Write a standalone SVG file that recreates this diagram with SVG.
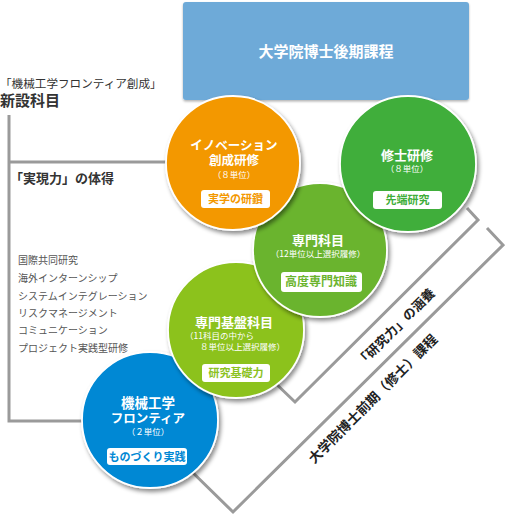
<svg xmlns="http://www.w3.org/2000/svg" width="505" height="516" viewBox="0 0 505 516">
<defs>
<filter id="sh" x="-20%" y="-20%" width="150%" height="150%">
<feDropShadow dx="2" dy="3" stdDeviation="2.2" flood-color="#000" flood-opacity="0.45"/>
</filter>
<filter id="sh2" x="-5%" y="-10%" width="110%" height="130%">
<feDropShadow dx="0" dy="1.5" stdDeviation="1.2" flood-color="#000" flood-opacity="0.3"/>
</filter>
</defs>
<style>
text{font-family:"Noto Sans CJK JP","Noto Sans CJK SC",sans-serif}
.ln{fill:none;stroke:#9a9a9a;stroke-width:3}
.c{stroke:#fff;stroke-width:1.8;filter:url(#sh)}
.t{fill:#fff;font-weight:bold;font-size:12.5px;text-anchor:middle}
.s{fill:#fff;font-size:8.5px;text-anchor:middle}
.b{fill:#fff}
.bl{font-weight:bold;font-size:11px;text-anchor:middle}
.list{fill:#555;font-size:10px}
.dk{fill:#222;font-weight:bold}
</style>

<g id="connectors">
<polyline class="ln" points="9,115 9,421 90,421"/>
<line class="ln" x1="9" y1="162" x2="175" y2="162"/>
<polyline class="ln" points="467,208 478,220 295,402 270,378"/>
<polyline class="ln" points="487,228 503,245 233,512 185,465"/>
</g>

<g id="top">
<rect x="183" y="2" width="286" height="98" rx="3" fill="#6eaad8" filter="url(#sh2)"/>
<text x="326" y="57" class="t" style="font-size:15px">大学院博士後期課程</text>
</g>

<g id="left-labels">
<text x="0" y="88" fill="#333" font-size="11.6">「機械工学フロンティア創成」</text>
<text x="0" y="106" fill="#333" font-size="15" font-weight="bold">新設科目</text>
<text x="10" y="183" fill="#333" font-size="13" font-weight="bold">「実現力」の体得</text>
<text class="list" x="18" y="264">国際共同研究</text>
<text class="list" x="18" y="282">海外インターンシップ</text>
<text class="list" x="18" y="300">システムインテグレーション</text>
<text class="list" x="18" y="317">リスクマネージメント</text>
<text class="list" x="18" y="334">コミュニケーション</text>
<text class="list" x="18" y="352">プロジェクト実践型研修</text>
</g>

<g id="brackets-labels">
<text class="dk" font-size="13" transform="translate(395,327) rotate(-45)" text-anchor="middle" dominant-baseline="central">「研究力」の涵養</text>
<text class="dk" font-size="13.5" transform="translate(372,398) rotate(-45)" text-anchor="middle" dominant-baseline="central">大学院博士前期（修士）課程</text>
</g>

<g id="node-frontier">
<circle class="c" cx="150" cy="420" r="68" fill="#0088d4"/>
<text class="t" x="148" y="408" style="font-size:13.5px">機械工学</text>
<text class="t" x="148" y="423">フロンティア</text>
<text class="s" x="148" y="435">（２単位）</text>
<rect class="b" x="107" y="448" width="80" height="17" rx="3"/>
<text class="bl" x="147" y="461" fill="#0088d4">ものづくり実践</text>
</g>

<g id="node-kiban">
<circle class="c" cx="236" cy="330" r="68" fill="#8cc21f"/>
<text class="t" x="234" y="327" style="font-size:13px">専門基盤科目</text>
<text class="s" x="185" y="339" style="text-anchor:start">（11科目の中から</text>
<text class="s" x="200" y="350" style="text-anchor:start">８単位以上選択履修）</text>
<rect class="b" x="202" y="364" width="68" height="18" rx="3"/>
<text class="bl" x="236" y="377" fill="#8cc21f">研究基礎力</text>
</g>

<g id="node-senmon">
<circle class="c" cx="320" cy="250" r="67" fill="#6bb42e"/>
<text class="t" x="318" y="245" style="font-size:13px">専門科目</text>
<text class="s" x="318" y="257">（12単位以上選択履修）</text>
<rect class="b" x="281" y="272" width="81" height="20" rx="3"/>
<text class="bl" x="321" y="286" fill="#6bb42e" style="font-size:12px">高度専門知識</text>
</g>

<g id="node-innovation">
<circle class="c" cx="233" cy="163" r="67" fill="#f39800"/>
<text class="t" x="234" y="150">イノベーション</text>
<text class="t" x="234" y="165">創成研修</text>
<text class="s" x="234" y="178">（８単位）</text>
<rect class="b" x="201" y="190" width="69" height="18" rx="3"/>
<text class="bl" x="235.5" y="203" fill="#f39800">実学の研鑽</text>
</g>

<g id="node-shushi">
<circle class="c" cx="408" cy="164" r="68" fill="#3fae3a"/>
<text class="t" x="407" y="160" style="font-size:13px">修士研修</text>
<text class="s" x="407" y="172">（８単位）</text>
<rect class="b" x="373" y="191" width="69" height="18" rx="3"/>
<text class="bl" x="407.5" y="204" fill="#3fae3a">先端研究</text>
</g>
</svg>
